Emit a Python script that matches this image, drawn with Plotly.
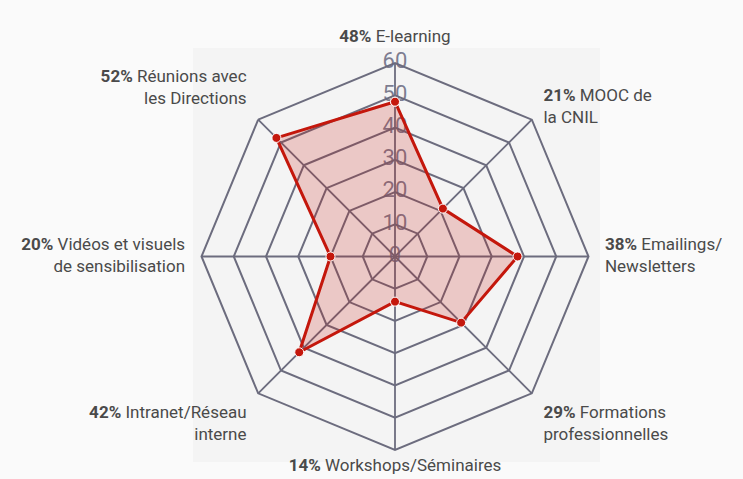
import plotly.graph_objects as go

categories = ["E-learning", "MOOC de<br>la CNIL", "Emailings/<br>Newsletters",
              "Formations<br>professionnelles", "Workshops/Séminaires",
              "Intranet/Réseau<br>interne", "Vidéos et visuels<br>de sensibilisation",
              "Réunions avec<br>les Directions"]
values = [48, 21, 38, 29, 14, 42, 20, 52]
tick_values = [0, 10, 20, 30, 40, 50, 60]
tick_labels = ["0", "10", "20", "30", "40", "50", "60"]

label_text = []
for v, c in zip(values, categories):
    first, *rest = c.split("<br>")
    txt = f"<b>{v}%</b> " + first
    if rest:
        txt += "<br>" + "<br>".join(rest)
    label_text.append(txt)

AXIS_MAX = tick_values[-1]
RANGE_MAX = 68          # extra room around the chart for the category labels
LABEL_R = 65.1          # radius at which category labels are anchored
label_pos = ["top center", "middle right", "middle right", "bottom right",
             "middle center", "bottom left", "middle left", "top left"]

GRID = "#6c6c7e"
RED = "#c4170c"

fig = go.Figure()

# spokes (angular grid) limited to the axis maximum
spoke_r, spoke_t = [], []
for lab in label_text:
    spoke_r += [0, AXIS_MAX, None]
    spoke_t += [lab, lab, None]
fig.add_trace(go.Scatterpolar(
    r=spoke_r, theta=spoke_t, mode="lines",
    line=dict(color=GRID, width=1.8), hoverinfo="skip", showlegend=False,
))

# radial tick labels along the top spoke (tiny epsilon keeps the centre label
# from being treated as outside the polygonal subplot)
fig.add_trace(go.Scatterpolar(
    r=[max(v, 1e-6) for v in tick_values], theta=[label_text[0]] * len(tick_values),
    mode="text", text=tick_labels, textposition="middle center",
    textfont=dict(family="Roboto", size=22, color="rgba(104,104,126,0.85)"),
    hoverinfo="skip", showlegend=False, cliponaxis=True,
))

fig.add_trace(go.Scatterpolar(
    r=values + [values[0]], theta=label_text + [label_text[0]],
    mode="lines+markers", fill="toself",
    fillcolor="rgba(200,25,15,0.2)",
    line=dict(color=RED, width=3),
    marker=dict(color=RED, size=9, line=dict(color="white", width=1)),
    showlegend=False, hoverinfo="r+theta",
))

# category labels
fig.add_trace(go.Scatterpolar(
    r=[LABEL_R] * len(label_text), theta=label_text, mode="text",
    text=label_text, textposition=label_pos,
    textfont=dict(family="Roboto", size=17, color="#4a4a4a"),
    hoverinfo="skip", showlegend=False, cliponaxis=False,
))

fig.update_layout(
    width=743, height=479,
    margin=dict(l=0, r=0, t=0, b=0),
    paper_bgcolor="#fafafa",
    plot_bgcolor="#fafafa",
    font=dict(family="Roboto", color="#444444"),
    shapes=[dict(type="rect", xref="paper", yref="paper",
                 x0=0.2598, x1=0.8075, y0=0.0355, y1=0.8998,
                 fillcolor="#f4f4f4", line=dict(width=0), layer="below")],
    polar=dict(
        domain=dict(x=[0.23647, 0.82679], y=[0.00668, 0.92234]),
        bgcolor="rgba(0,0,0,0)",
        gridshape="linear",
        radialaxis=dict(range=[0, RANGE_MAX], tickvals=tick_values, showticklabels=False,
                        ticks="", showline=False, gridcolor=GRID, gridwidth=1.8),
        angularaxis=dict(categoryarray=label_text, categoryorder="array",
                         rotation=90, direction="clockwise",
                         showticklabels=False, ticks="", showgrid=False,
                         showline=False),
    ),
)

fig.write_html("out.html", config={"displayModeBar": False},
               post_script="document.body.style.margin='0';document.body.style.background='#fafafa';")
